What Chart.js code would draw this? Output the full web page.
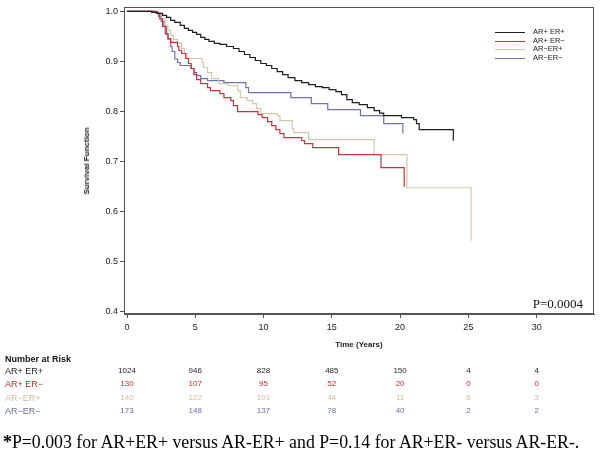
<!DOCTYPE html>
<html><head><meta charset="utf-8">
<script src="https://cdn.jsdelivr.net/npm/chart.js@4.4.1/dist/chart.umd.min.js"></script>
<style>
html,body{margin:0;padding:0;background:#fff;}
#wrap{position:relative;width:602px;height:466px;overflow:hidden;font-family:"Liberation Sans",Arial,sans-serif;background:#fff;}
canvas{position:absolute;left:0;top:0;}
.t{position:absolute;white-space:nowrap;line-height:1;}
</style></head><body>
<div id="wrap"><canvas id="c" width="602" height="466"></canvas></div>
<script>
// ---- data ----
const groupLabels = ['AR+ ER+', 'AR+ ER\u2212', 'AR\u2212ER+', 'AR\u2212ER\u2212'];
const groupColors = ['#1e1e1e', '#c8323c', '#d6c7a8', '#6f73a8'];
const riskTextColors = ['#1e1e1e', '#c0302a', '#cdbd9a', '#6a6da0'];

const timeArPosErPos = [0,1.8,2.2,2.6,2.9,3.2,3.5,3.9,4.2,4.5,4.8,5.1,5.4,5.7,6.0,6.4,6.8,7.3,7.8,8.2,8.6,9.0,9.4,9.8,10.2,10.6,11.0,11.4,11.8,12.3,12.8,13.3,13.8,14.3,14.8,15.3,15.7,16.1,16.5,17.0,17.6,18.1,18.5,18.8,20.1,21.0,21.2,21.4,23.9];
const survArPosErPos = [1.0,0.998,0.996,0.992,0.988,0.982,0.978,0.972,0.966,0.962,0.958,0.954,0.948,0.944,0.940,0.936,0.934,0.930,0.926,0.920,0.914,0.908,0.902,0.896,0.892,0.886,0.880,0.874,0.868,0.862,0.858,0.854,0.850,0.848,0.844,0.840,0.834,0.824,0.818,0.814,0.808,0.802,0.797,0.792,0.788,0.784,0.776,0.764,0.742];

const timeArPosErNeg = [0,2.2,2.4,2.6,2.8,3.0,3.2,3.7,3.8,4.0,4.3,4.5,4.7,4.9,5.1,5.4,5.9,6.1,6.8,7.1,7.6,7.8,8.1,9.6,9.9,10.3,10.6,10.9,11.2,11.5,12.8,13.0,13.6,15.5,18.6,20.3];
const survArPosErNeg = [1.0,0.996,0.985,0.970,0.955,0.945,0.938,0.930,0.922,0.916,0.906,0.896,0.886,0.874,0.864,0.856,0.848,0.842,0.836,0.828,0.822,0.812,0.800,0.794,0.788,0.780,0.772,0.764,0.756,0.748,0.742,0.736,0.728,0.714,0.688,0.650];

const timeArNegErPos = [0,2.1,2.5,2.8,3.0,3.2,3.4,3.7,4.0,4.2,4.4,5.5,5.6,5.9,6.2,6.7,7.4,8.1,8.3,8.8,9.2,9.5,9.8,11.0,11.2,12.1,12.2,13.3,18.1,20.5,25.2];
const survArNegErPos = [1.0,0.996,0.985,0.972,0.962,0.952,0.944,0.936,0.926,0.916,0.906,0.898,0.888,0.878,0.866,0.856,0.852,0.842,0.828,0.822,0.816,0.806,0.796,0.792,0.782,0.766,0.758,0.744,0.714,0.648,0.542];

const timeArNegErNeg = [0,2.0,2.3,2.5,2.7,2.9,3.0,3.2,3.3,3.5,3.7,3.9,4.7,4.9,5.1,5.4,5.9,7.1,8.7,8.9,12.0,13.5,14.7,17.1,18.8,20.2];
const survArNegErNeg = [1.0,0.998,0.990,0.980,0.970,0.955,0.945,0.930,0.920,0.905,0.898,0.892,0.886,0.878,0.872,0.866,0.862,0.858,0.848,0.838,0.828,0.816,0.804,0.792,0.776,0.756];

const xTicks = [0,5,10,15,20,25,30];
const yTicks = [0.4,0.5,0.6,0.7,0.8,0.9,1.0];
const riskTimes = [0,5,10,15,20,25,30];
const riskArPosErPos = [1024,946,828,485,150,4,4];
const riskArPosErNeg = [130,107,95,52,20,0,0];
const riskArNegErPos = [140,122,101,44,11,6,3];
const riskArNegErNeg = [173,148,137,78,40,2,2];

const pValueText = 'P=0.0004';
const xTitle = 'Time (Years)';
const yTitle = 'Survival Function';
const riskTitle = 'Number at Risk';
const footnote = 'P=0.003 for AR+ER+ versus AR-ER+ and P=0.14 for AR+ER- versus AR-ER-.';

// ---- build ----
const times = [timeArPosErPos, timeArPosErNeg, timeArNegErPos, timeArNegErNeg];
const survs = [survArPosErPos, survArPosErNeg, survArNegErPos, survArNegErNeg];
const risks = [riskArPosErPos, riskArPosErNeg, riskArNegErPos, riskArNegErNeg];

const datasets = times.map((tArr, i) => ({
  label: groupLabels[i],
  data: tArr.map((t, j) => ({x: t, y: survs[i][j]})),
  borderColor: groupColors[i],
  borderWidth: 1.2,
  pointRadius: 0,
  stepped: true,
  fill: false
}));

const frame = {
  id: 'frame',
  afterDraw(chart) {
    const a = chart.chartArea, ctx = chart.ctx;
    ctx.save();
    ctx.strokeStyle = '#555';
    ctx.lineWidth = 1;
    ctx.strokeRect(Math.round(a.left) + 0.5, Math.round(a.top) + 0.5, Math.round(a.right - a.left) - 1, Math.round(a.bottom - a.top) - 1);
    ctx.restore();
  }
};

const tickFont = {family: '"Liberation Sans", Arial, sans-serif', size: 9};
const chart = new Chart(document.getElementById('c'), {
  type: 'line',
  data: {datasets},
  options: {
    responsive: false,
    animation: false,
    events: [],
    layout: {padding: {left: 0, right: 8, top: 7, bottom: 122}},
    plugins: {legend: {display: false}, tooltip: {enabled: false}},
    scales: {
      x: {
        type: 'linear', min: -0.22, max: 34.2,
        afterBuildTicks: s => { s.ticks = xTicks.map(v => ({value: v})); },
        afterFit: s => { s.height = 30; },
        ticks: {font: tickFont, color: '#222', padding: 4, maxRotation: 0},
        grid: {drawOnChartArea: false, tickLength: 4, color: '#555'},
        border: {color: '#555', width: 1}
      },
      y: {
        type: 'linear', min: 0.396, max: 1.008,
        afterBuildTicks: s => { s.ticks = yTicks.map(v => ({value: v})); },
        afterFit: s => { s.width = 124; },
        ticks: {font: tickFont, color: '#222', padding: 2, callback: v => Number(v).toFixed(1)},
        grid: {drawOnChartArea: false, tickLength: 4, color: '#555'},
        border: {color: '#555', width: 1}
      }
    }
  },
  plugins: [frame]
});

// ---- overlay texts ----
const wrap = document.getElementById('wrap');
function addText(txt, x, y, css, tf) {
  const d = document.createElement('div');
  d.className = 't';
  d.textContent = txt;
  d.style.left = x + 'px';
  d.style.top = y + 'px';
  Object.assign(d.style, css || {});
  if (tf) d.style.transform = tf;
  wrap.appendChild(d);
  return d;
}
const xs = chart.scales.x, ys = chart.scales.y, ca = chart.chartArea;

// axis titles
addText(xTitle, (ca.left + ca.right) / 2, 345, {fontSize: '8px', fontWeight: 'bold', color: '#222'}, 'translate(-50%,-50%)');
addText(yTitle, 87, (ca.top + ca.bottom) / 2, {fontSize: '8px', fontWeight: 'bold', color: '#222'}, 'translate(-50%,-50%) rotate(-90deg)');

// legend
const legY = [32, 41, 49, 58];
groupLabels.forEach((lab, i) => {
  const ln = document.createElement('div');
  ln.style.cssText = 'position:absolute;left:495px;width:30px;height:0;border-top:1.2px solid ' + groupColors[i] + ';top:' + legY[i] + 'px;';
  wrap.appendChild(ln);
  addText(lab, 533, legY[i], {fontSize: '7.5px', color: '#222'}, 'translateY(-50%)');
});

// p value
addText(pValueText, 583, 303, {fontSize: '13px', fontFamily: '"Liberation Serif", "Times New Roman", serif', color: '#111'}, 'translate(-100%,-50%)');

// risk table
addText(riskTitle, 5, 359, {fontSize: '9px', fontWeight: 'bold', color: '#111'}, 'translateY(-50%)');
const rowY = [371, 384, 398, 411];
risks.forEach((row, i) => {
  addText(groupLabels[i], 5, rowY[i], {fontSize: '9px', color: riskTextColors[i]}, 'translateY(-50%)');
  row.forEach((n, j) => {
    addText(String(n), xs.getPixelForValue(riskTimes[j]), rowY[i], {fontSize: '8px', color: riskTextColors[i]}, 'translate(-50%,-50%)');
  });
});

// footnote
const fn = addText('', 3, 443, {fontSize: '17.8px', fontFamily: '"Liberation Serif", "Times New Roman", serif', color: '#000'}, 'translateY(-50%)');
const star = document.createElement('b');
star.textContent = '*';
fn.appendChild(star);
fn.appendChild(document.createTextNode(footnote));
</script>
</body></html>
